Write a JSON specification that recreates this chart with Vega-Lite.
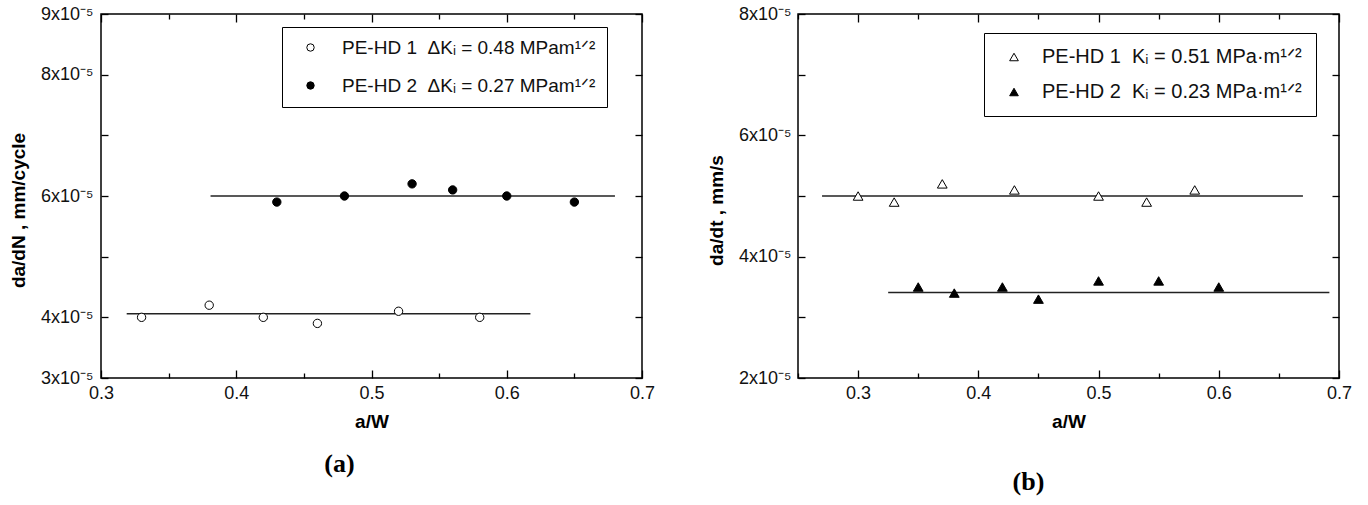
{
  "$schema": "https://vega.github.io/schema/vega-lite/v6.json",
  "background": "white",
  "padding": {"left": 8, "top": 4, "right": 0, "bottom": 0},
  "spacing": 50,
  "config": {
    "font": "Liberation Sans",
    "view": {"stroke": "black", "strokeWidth": 1.5},
    "axis": {
      "grid": false, "domain": false, "labelFlush": false,
      "labelFont": "Liberation Sans", "labelFontSize": 18, "labelColor": "#111",
      "tickColor": "black", "tickWidth": 1.3,
      "titleFont": "Liberation Sans", "titleFontSize": 19, "titleFontWeight": "bold", "titleColor": "black"
    },
    "legend": {
      "labelFont": "Liberation Sans", "labelFontSize": 19, "labelColor": "#111", "labelLimit": 0,
      "strokeColor": "black", "symbolStrokeColor": "black", "symbolStrokeWidth": 1,
      "title": null
    }
  },
  "datasets": {
    "pointsA": [
      {"aW": 0.33, "rate": 4.0e-5, "series": "PE-HD 1"},
      {"aW": 0.38, "rate": 4.2e-5, "series": "PE-HD 1"},
      {"aW": 0.42, "rate": 4.0e-5, "series": "PE-HD 1"},
      {"aW": 0.46, "rate": 3.9e-5, "series": "PE-HD 1"},
      {"aW": 0.52, "rate": 4.1e-5, "series": "PE-HD 1"},
      {"aW": 0.58, "rate": 4.0e-5, "series": "PE-HD 1"},
      {"aW": 0.43, "rate": 5.9e-5, "series": "PE-HD 2"},
      {"aW": 0.48, "rate": 6.0e-5, "series": "PE-HD 2"},
      {"aW": 0.53, "rate": 6.2e-5, "series": "PE-HD 2"},
      {"aW": 0.56, "rate": 6.1e-5, "series": "PE-HD 2"},
      {"aW": 0.60, "rate": 6.0e-5, "series": "PE-HD 2"},
      {"aW": 0.65, "rate": 5.9e-5, "series": "PE-HD 2"}
    ],
    "linesA": [
      {"series": "PE-HD 1", "from": 0.319, "to": 0.6175, "level": 4.06e-5},
      {"series": "PE-HD 2", "from": 0.381, "to": 0.68, "level": 6.0e-5}
    ],
    "pointsB": [
      {"aW": 0.30, "rate": 5.0e-5, "series": "PE-HD 1"},
      {"aW": 0.33, "rate": 4.9e-5, "series": "PE-HD 1"},
      {"aW": 0.37, "rate": 5.2e-5, "series": "PE-HD 1"},
      {"aW": 0.43, "rate": 5.1e-5, "series": "PE-HD 1"},
      {"aW": 0.50, "rate": 5.0e-5, "series": "PE-HD 1"},
      {"aW": 0.54, "rate": 4.9e-5, "series": "PE-HD 1"},
      {"aW": 0.58, "rate": 5.1e-5, "series": "PE-HD 1"},
      {"aW": 0.35, "rate": 3.5e-5, "series": "PE-HD 2"},
      {"aW": 0.38, "rate": 3.4e-5, "series": "PE-HD 2"},
      {"aW": 0.42, "rate": 3.5e-5, "series": "PE-HD 2"},
      {"aW": 0.45, "rate": 3.3e-5, "series": "PE-HD 2"},
      {"aW": 0.50, "rate": 3.6e-5, "series": "PE-HD 2"},
      {"aW": 0.55, "rate": 3.6e-5, "series": "PE-HD 2"},
      {"aW": 0.60, "rate": 3.5e-5, "series": "PE-HD 2"}
    ],
    "linesB": [
      {"series": "PE-HD 1", "from": 0.27, "to": 0.67, "level": 5.0e-5},
      {"series": "PE-HD 2", "from": 0.325, "to": 0.692, "level": 3.41e-5}
    ]
  },
  "hconcat": [
    {
      "width": 541,
      "height": 364,
      "title": {"text": "(a)", "orient": "bottom", "font": "Liberation Serif", "fontSize": 26, "fontWeight": "bold", "color": "black", "dx": -32, "offset": 20},
      "layer": [
        {
          "data": {"name": "linesA"},
          "mark": {"type": "rule", "color": "#222", "strokeWidth": 1.6},
          "encoding": {
            "x": {"field": "from", "type": "quantitative", "scale": {"domain": [0.3, 0.7], "nice": false, "zero": false},
                  "axis": {"orient": "top", "title": null, "labels": false, "values": [0.3, 0.35, 0.4, 0.45, 0.5, 0.55, 0.6, 0.65, 0.7],
                           "tickSize": {"condition": {"test": "abs(datum.value*10 - round(datum.value*10)) < 0.001", "value": -8}, "value": -5}}},
            "x2": {"field": "to"},
            "y": {"field": "level", "type": "quantitative", "scale": {"domain": [3e-5, 9e-5], "nice": false, "zero": false},
                  "axis": {"orient": "right", "title": null, "labels": false, "values": [3e-5, 4e-5, 5e-5, 6e-5, 7e-5, 8e-5, 9e-5], "tickSize": -7}}
          }
        },
        {
          "data": {"name": "pointsA"},
          "mark": {"type": "point", "shape": "circle", "filled": true, "strokeWidth": 1, "size": 70, "opacity": 1},
          "encoding": {
            "x": {"field": "aW", "type": "quantitative", "scale": {"domain": [0.3, 0.7], "nice": false, "zero": false},
                  "axis": {"orient": "bottom", "title": "a/W", "values": [0.3, 0.35, 0.4, 0.45, 0.5, 0.55, 0.6, 0.65, 0.7],
                           "labelExpr": "abs(datum.value*10 - round(datum.value*10)) < 0.001 ? format(datum.value, '.1f') : ''",
                           "tickSize": {"condition": {"test": "abs(datum.value*10 - round(datum.value*10)) < 0.001", "value": -8}, "value": -5},
                           "labelPadding": 14, "titlePadding": 10}},
            "y": {"field": "rate", "type": "quantitative", "scale": {"domain": [3e-5, 9e-5], "nice": false, "zero": false},
                  "axis": {"orient": "left", "title": "da/dN , mm/cycle", "values": [3e-5, 4e-5, 5e-5, 6e-5, 7e-5, 8e-5, 9e-5],
                           "labelExpr": "indexof([3,4,6,8,9], round(datum.value*1e5)) >= 0 ? round(datum.value*1e5) + 'x10⁻⁵' : ''",
                           "tickSize": -7, "labelPadding": 15, "titlePadding": 12, "titleY": 196}},
            "stroke": {"value": "black"},
            "fill": {"field": "series", "type": "nominal", "scale": {"range": ["white", "black"]},
                     "legend": {"orient": "none", "legendX": 181, "legendY": 13, "padding": 11, "rowPadding": 18, "symbolSize": 55, "symbolOffset": 8, "labelOffset": 22,
                                "symbolType": "circle", "symbolStrokeColor": "black", "symbolStrokeWidth": 1,
                                "labelExpr": "datum.label == 'PE-HD 1' ? 'PE-HD 1\u00a0\u00a0ΔKᵢ = 0.48 MPam¹ᐟ²' : 'PE-HD 2\u00a0\u00a0ΔKᵢ = 0.27 MPam¹ᐟ²'"}}
          }
        },
        {
          "mark": {"type": "text", "text": ["water 80 °C", "1 Hz", "R=0.1"], "align": "left", "baseline": "alphabetic", "fontSize": 18, "lineHeight": 25, "color": "#111", "font": "Liberation Sans"},
          "encoding": {
            "x": {"datum": 0.3177, "type": "quantitative", "axis": null},
            "y": {"datum": 8.41e-5, "type": "quantitative", "axis": null}
          }
        }
      ]
    },
    {
      "width": 541,
      "height": 364,
      "title": {"text": "(b)", "orient": "bottom", "font": "Liberation Serif", "fontSize": 26, "fontWeight": "bold", "color": "black", "dx": -40, "offset": 38},
      "layer": [
        {
          "data": {"name": "linesB"},
          "mark": {"type": "rule", "color": "#222", "strokeWidth": 1.6},
          "encoding": {
            "x": {"field": "from", "type": "quantitative", "scale": {"domain": [0.25, 0.7], "nice": false, "zero": false},
                  "axis": {"orient": "top", "title": null, "labels": false, "values": [0.25, 0.3, 0.35, 0.4, 0.45, 0.5, 0.55, 0.6, 0.65, 0.7],
                           "tickSize": {"condition": {"test": "abs(datum.value*10 - round(datum.value*10)) < 0.001", "value": -8}, "value": -5}}},
            "x2": {"field": "to"},
            "y": {"field": "level", "type": "quantitative", "scale": {"domain": [2e-5, 8e-5], "nice": false, "zero": false},
                  "axis": {"orient": "right", "title": null, "labels": false, "values": [2e-5, 3e-5, 4e-5, 5e-5, 6e-5, 7e-5, 8e-5], "tickSize": -7}}
          }
        },
        {
          "data": {"name": "pointsB"},
          "mark": {"type": "point", "shape": "triangle-up", "filled": true, "strokeWidth": 1, "size": 95, "opacity": 1},
          "encoding": {
            "x": {"field": "aW", "type": "quantitative", "scale": {"domain": [0.25, 0.7], "nice": false, "zero": false},
                  "axis": {"orient": "bottom", "title": "a/W", "values": [0.25, 0.3, 0.35, 0.4, 0.45, 0.5, 0.55, 0.6, 0.65, 0.7],
                           "labelExpr": "abs(datum.value*10 - round(datum.value*10)) < 0.001 ? format(datum.value, '.1f') : ''",
                           "tickSize": {"condition": {"test": "abs(datum.value*10 - round(datum.value*10)) < 0.001", "value": -8}, "value": -5},
                           "labelPadding": 14, "titlePadding": 10}},
            "y": {"field": "rate", "type": "quantitative", "scale": {"domain": [2e-5, 8e-5], "nice": false, "zero": false},
                  "axis": {"orient": "left", "title": "da/dt , mm/s", "values": [2e-5, 3e-5, 4e-5, 5e-5, 6e-5, 7e-5, 8e-5],
                           "labelExpr": "indexof([2,4,6,8], round(datum.value*1e5)) >= 0 ? round(datum.value*1e5) + 'x10⁻⁵' : ''",
                           "tickSize": -7, "labelPadding": 14, "titlePadding": 12, "titleY": 196}},
            "stroke": {"value": "black"},
            "fill": {"field": "series", "type": "nominal", "scale": {"range": ["white", "black"]},
                     "legend": {"orient": "none", "legendX": 186, "legendY": 19, "padding": 14, "rowPadding": 15, "symbolSize": 75, "symbolOffset": 6, "labelOffset": 18,
                                "symbolType": "triangle-up", "symbolStrokeColor": "black", "symbolStrokeWidth": 1, "labelFontSize": 20,
                                "labelExpr": "datum.label == 'PE-HD 1' ? 'PE-HD 1\u00a0\u00a0Kᵢ = 0.51 MPa·m¹ᐟ²' : 'PE-HD 2\u00a0\u00a0Kᵢ = 0.23 MPa·m¹ᐟ²'"}}
          }
        },
        {
          "mark": {"type": "text", "text": ["water 80 °C", "R=1"], "align": "left", "baseline": "alphabetic", "fontSize": 18, "lineHeight": 26, "color": "#111", "font": "Liberation Sans"},
          "encoding": {
            "x": {"datum": 0.2625, "type": "quantitative", "axis": null},
            "y": {"datum": 7.25e-5, "type": "quantitative", "axis": null}
          }
        }
      ]
    }
  ],
  "resolve": {"scale": {"fill": "independent"}}
}
